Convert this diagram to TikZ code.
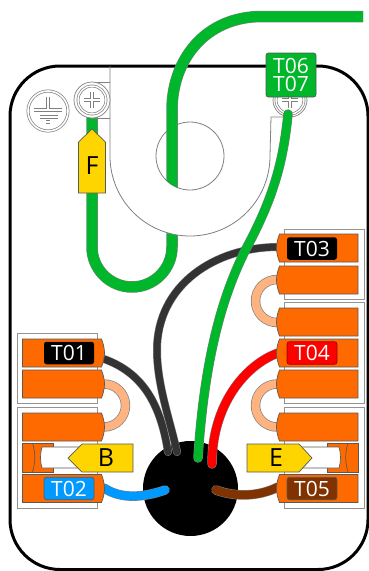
\documentclass[tikz,border=0pt]{standalone}
\usepackage{fontspec}
\setmainfont{Open Sans}

\definecolor{wiregreen}{HTML}{00B62A}
\definecolor{wireblack}{HTML}{333333}
\definecolor{wirered}{HTML}{FF0000}
\definecolor{wireblue}{HTML}{0099FF}
\definecolor{wirebrown}{HTML}{803300}
\definecolor{termorange}{HTML}{FF6A00}
\definecolor{linkpeach}{HTML}{FFB380}
\definecolor{tagyellow}{HTML}{FFD500}

\tikzset{
    wire/.style n args={2}{draw=gray, line width=0.5, double=#1, double distance=#2},
    link/.style={draw=gray, line width=0.7, double=linkpeach, double distance=8},
    frame/.style={draw=gray!85, line width=1, fill=white},
    termbody/.style={draw=gray!70!black, line width=0.7, fill=termorange},
    plate/.style={draw=gray, line width=0.8},
    hairline/.style={draw=gray, line width=0.7},
    engraved/.style={draw=gray, line width=0.7, double=white, double distance=2.4},
    tagbody/.style={draw=gray!70!black, line width=0.7, fill=tagyellow},
    tagtext/.style={inner sep=0, font=\fontsize{25}{25}\selectfont},
    idbox/.style={minimum width=50, minimum height=22.5, inner sep=0, rounded corners=2.5, text=white, font=\fontsize{21}{18}\selectfont}
}

\newcommand{\leftterm}[1]{
    \draw[termbody] (22.5,#1-14) -- (101.5,#1-14) .. controls (103.5,#1-9) and (104.5,#1-4) .. (104.5,#1) .. controls (104.5,#1+4) and (103.5,#1+9) .. (101.5,#1+14) -- (22.5,#1+14) -- cycle;
}
\newcommand{\rightterm}[1]{
    \draw[termbody] (358,#1-14) -- (279.5,#1-14) .. controls (277.5,#1-9) and (276.5,#1-4) .. (276.5,#1) .. controls (276.5,#1+4) and (277.5,#1+9) .. (279.5,#1+14) -- (358,#1+14) -- cycle;
}

\begin{document}
\begin{tikzpicture}[x=1pt, y=-1pt]
    \useasboundingbox (0,0) rectangle (368,571);

    % where the wires end
    \coordinate (pinT01) at (104,359);
    \coordinate (pinT02) at (104,488);
    \coordinate (pinT03) at (278,247);
    \coordinate (pinT04) at (278,353);
    \coordinate (pinT05) at (278,487);
    \coordinate (hubT01) at (168,452);
    \coordinate (hubT02) at (165,490);
    \coordinate (hubT03) at (177,452);
    \coordinate (hubT04) at (212,464);
    \coordinate (hubT05) at (216,490);
    \coordinate (hubT06) at (198,458);
    \coordinate (screwL) at (92,114);
    \coordinate (screwR) at (288,114);
    \coordinate (cableEnd) at (363,16.5);

    % housing
    \draw[line width=3, rounded corners=50] (10,66) rectangle (368,569.5);

    % earth sign
    \node[circle, draw=gray, line width=0.7, double=white, double distance=1.6, minimum size=40, inner sep=0] (earth) at (48,111) {};
    \draw[engraved] (48,97) -- (48,110) (34,110) -- (62,110);
    \draw[engraved] (40,117) -- (58,117);
    \draw[engraved] (46,122) -- (50,122);

    % green loop under the plate
    \draw[wire={wiregreen}{10.5}] (screwL) -- (92,247) arc[start angle=180, end angle=0, radius=40] -- (172.5,220);

    % plate with its hole
    \fill[white] (110,156) arc[start angle=180, end angle=0, radius=80] -- cycle;
    \draw[plate] (110,66) -- (110,156) arc[start angle=180, end angle=0, radius=80] -- (271,117) -- (289,117);
    \draw[plate] (190,156) circle[radius=34];
    \draw[hairline] (92,82) -- (110,82) (92,118) -- (110,118);

    % screws
    \node[circle, draw=gray, line width=0.7, fill=white, minimum size=36, inner sep=0] (screwLo) at (92,100) {};
    \node[circle, draw=gray, line width=0.7, double=white, double distance=1.4, minimum size=28, inner sep=0] (screwLi) at (92,100) {};
    \draw[engraved] (84,100) -- (100,100) (92,92) -- (92,108);
    \node[circle, draw=gray, line width=0.7, fill=white, minimum size=34, inner sep=0] (screwRo) at (290,100) {};
    \node[circle, draw=gray, line width=0.7, double=white, double distance=1.4, minimum size=28, inner sep=0] (screwRi) at (290,100) {};
    \draw[engraved] (282,100) -- (298,100) (290,92) -- (290,108);

    % incoming cable, cut off by the hole
    \begin{scope}
        \clip (0,0) -- (368,0) -- (368,156) -- (224,156) arc[start angle=0, end angle=180, radius=34] -- (0,156) -- cycle;
        \draw[wire={wiregreen}{10.5}] (cableEnd) -- (262,16.5) .. controls (205,16.5) and (172,60) .. (172,110) -- (172,200);
    \end{scope}

    % spring frames
    \draw[frame] (17,333) rectangle (97,403);
    \draw[frame] (17,407) rectangle (97,508);
    \draw[frame] (284,229) rectangle (364,299);
    \draw[frame] (284,302) rectangle (364,403);
    \draw[frame] (284,407) rectangle (364,508);

    % grommet
    \node[circle, fill=black, minimum size=95, inner sep=0] (hub) at (190.5,488.5) {};

    % wires
    \draw[wire={wireblack}{7}, line cap=round] (pinT01) .. controls (140,372) and (160,400) .. (hubT01);
    \draw[wire={wireblack}{7}, line cap=round] (pinT03) .. controls (215,247) and (157,285) .. (157,350) .. controls (157,385) and (170,420) .. (hubT03);
    \draw[wire={wiregreen}{8.5}, line cap=round] (screwR) .. controls (283,165) and (272,200) .. (247,247) .. controls (225,290) and (205,350) .. (hubT06);
    \draw[wire={wirered}{8.5}, line cap=round] (pinT04) .. controls (245,365) and (212,405) .. (hubT04);
    \draw[wire={wireblue}{8.5}, line cap=round] (pinT02) .. controls (122,500) and (145,497) .. (hubT02);
    \draw[wire={wirebrown}{8.5}, line cap=round] (pinT05) .. controls (258,497) and (235,497) .. (hubT05);

    % links between the terminals
    \draw[link] (104,384) arc[start angle=-90, end angle=90, radius=21.5];
    \draw[link] (277,384) arc[start angle=270, end angle=90, radius=21.5];
    \draw[link] (277,279.5) arc[start angle=270, end angle=90, radius=21.5];

    % terminals
    \leftterm{353}
    \leftterm{384}
    \leftterm{427}
    \leftterm{488.5}
    \rightterm{248}
    \rightterm{280}
    \rightterm{322}
    \rightterm{353}
    \rightterm{384}
    \rightterm{427}
    \rightterm{488.5}

    % release sliders
    \draw[termbody] (22.5,443) rectangle (53,472);
    \draw[termbody, fill=white] (42,447) .. controls (40,455) and (40,460) .. (42,468) -- (80,468) -- (80,447) -- cycle;
    \draw[termbody, fill=none] (32.5,443) .. controls (35.5,452) and (35.5,463) .. (32.5,472);
    \draw[termbody] (327,443) rectangle (358,472);
    \draw[termbody, fill=white] (339,447) .. controls (341,455) and (341,460) .. (339,468) -- (295,468) -- (295,447) -- cycle;
    \draw[termbody, fill=none] (348,443) .. controls (345,452) and (345,463) .. (348,472);

    % yellow tags
    \draw[tagbody] (78.5,142) -- (92,129) -- (105.5,142) -- (105.5,193) -- (78.5,193) -- cycle;
    \node[tagtext] (tagF) at (92,166) {F};
    \draw[tagbody] (68,458) -- (82,444) -- (133,444) -- (133,472) -- (82,472) -- cycle;
    \node[tagtext] (tagB) at (106,458) {B};
    \draw[tagbody] (312,458) -- (299,444) -- (247,444) -- (247,472) -- (299,472) -- cycle;
    \node[tagtext] (tagE) at (276,458) {E};

    % wire numbers
    \node[idbox, fill=black] (idT01) at (69,353) {T01};
    \node[idbox, fill=wireblue, draw=gray!70!black, line width=0.7] (idT02) at (69,488.5) {T02};
    \node[idbox, fill=black] (idT03) at (312,248.5) {T03};
    \node[idbox, fill=wirered, draw=red!60!black, line width=0.7] (idT04) at (312,353) {T04};
    \node[idbox, fill=wirebrown, draw=gray!70!black, line width=0.7] (idT05) at (312,488.5) {T05};
    \node[idbox, fill=wiregreen, draw=gray!70!black, line width=0.7, minimum height=44, align=center] (idT06) at (291,75) {T06\\T07};
\end{tikzpicture}
\end{document}
